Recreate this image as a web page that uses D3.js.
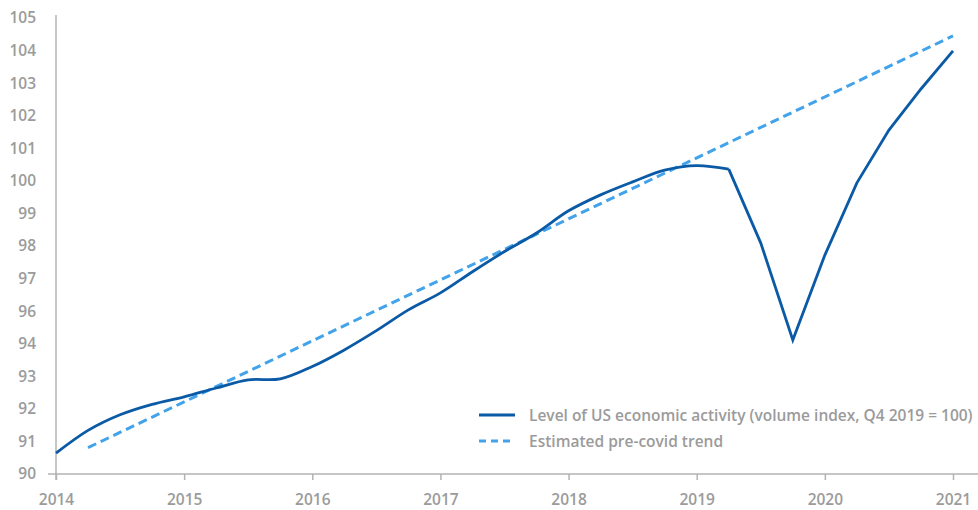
<!DOCTYPE html>
<html>
<head>
<meta charset="utf-8">
<script src="https://cdn.jsdelivr.net/npm/d3@7"></script>
<style>
  html, body { margin: 0; padding: 0; background: #fff; }
  svg { display: block; font-family: "Open Sans", "Noto Sans", sans-serif; }
</style>
</head>
<body>
<svg id="chart" width="978" height="510"></svg>
<script>
// Quarterly time stamps (decimal years) and the activity index
const quarters = [
  2014, 2014.25, 2014.5, 2014.75,
  2015, 2015.25, 2015.5, 2015.75,
  2016, 2016.25, 2016.5, 2016.75,
  2017, 2017.25, 2017.5, 2017.75,
  2018, 2018.25, 2018.5, 2018.75,
  2019, 2019.25, 2019.5, 2019.75,
  2020, 2020.25, 2020.5, 2020.75,
  2021
];
const activity = [
  90.64, 91.34, 91.82, 92.14,
  92.37, 92.64, 92.89, 92.92,
  93.30, 93.81, 94.80, 96.04,
  96.56, 97.21, 97.83, 98.40,
  99.08, 99.57, 99.97, 100.33,
  100.47, 100.36, 98.09, 94.23,
  97.72, 99.94, 101.56, 102.82,
  103.99
];
// Pre-covid trend endpoints
const trendYears = [2014.25, 2021];
const trendValues = [90.81, 104.45];

// Axis labels
const yearTicks = [2014, 2015, 2016, 2017, 2018, 2019, 2020, 2021];
const yTickLabels = [90, 91, 92, 93, 94, 96, 97, 98, 99, 100, 101, 102, 103, 104, 105];

const legendLabels = [
  "Level of US economic activity (volume index, Q4 2019 = 100)",
  "Estimated pre-covid trend"
];

const colors = { activity: "#0b5aa6", trend: "#42a3ea", axis: "#b3b3b3", text: "#9b9b9b" };
const fontSize = 15.5;
const fontWeight = 600;

const svg = d3.select("#chart");
const plotLeft = 56, plotRight = 953, plotTop = 18, plotBottom = 474;

const x = d3.scaleLinear().domain([2014, 2021]).range([plotLeft, plotRight]);

// The labelled scale skips 95, so the vertical scale is piecewise over the label values
const step = (plotBottom - plotTop) / (yTickLabels.length - 1);
const y = d3.scaleLinear()
  .domain(yTickLabels)
  .range(yTickLabels.map((_, i) => plotBottom - i * step));

// Axes
svg.append("line")
  .attr("x1", plotLeft).attr("x2", plotLeft)
  .attr("y1", plotTop - 3).attr("y2", plotBottom + 6)
  .attr("stroke", colors.axis).attr("stroke-width", 1.5);

const xAxis = svg.append("g")
  .attr("transform", `translate(0,${plotBottom})`)
  .call(d3.axisBottom(x).tickValues(yearTicks).tickFormat(d3.format("d")).tickSize(6).tickPadding(14))
  .attr("font-family", null)
  .attr("font-size", null);
xAxis.select(".domain").attr("d", `M48,0H978`);
xAxis.selectAll("line, path").attr("stroke", colors.axis).attr("stroke-width", 1.5);
xAxis.selectAll("text")
  .attr("fill", colors.text)
  .attr("font-size", fontSize)
  .attr("font-weight", fontWeight);

const yAxis = svg.append("g")
  .attr("transform", `translate(${plotLeft},0)`)
  .call(d3.axisLeft(y).tickValues(yTickLabels).tickFormat(d3.format("d")).tickSize(0).tickPadding(20))
  .attr("font-family", null)
  .attr("font-size", null);
yAxis.select(".domain").remove();
yAxis.selectAll("text")
  .attr("fill", colors.text)
  .attr("font-size", fontSize)
  .attr("font-weight", fontWeight);

// Trend line
const trendData = trendYears.map((t, i) => ({ t, v: trendValues[i] }));
svg.append("path")
  .datum(trendData)
  .attr("fill", "none")
  .attr("stroke", colors.trend)
  .attr("stroke-width", 3)
  .attr("stroke-dasharray", "9,5")
  .attr("d", d3.line().x(d => x(d.t)).y(d => y(d.v)));

// Activity line: smooth through the pre-pandemic quarters, straight through the shock
const series = quarters.map((t, i) => ({ t, v: activity[i] }));
const smoothPart = series.filter(d => d.t <= 2019.25);
const shockPart = series.filter(d => d.t >= 2019.25);

svg.append("path")
  .datum(smoothPart)
  .attr("fill", "none")
  .attr("stroke", colors.activity)
  .attr("stroke-width", 2.8)
  .attr("stroke-linejoin", "round")
  .attr("d", d3.line().curve(d3.curveCatmullRom.alpha(0.5)).x(d => x(d.t)).y(d => y(d.v)));

svg.append("path")
  .datum(shockPart)
  .attr("fill", "none")
  .attr("stroke", colors.activity)
  .attr("stroke-width", 2.8)
  .attr("stroke-linejoin", "miter")
  .attr("d", d3.line().x(d => x(d.t)).y(d => y(d.v)));

// Legend
const legend = svg.append("g").attr("transform", "translate(479,415)");
const legendStyles = [
  { stroke: colors.activity, dash: null },
  { stroke: colors.trend, dash: "7,5" }
];
legendLabels.forEach((label, i) => {
  const row = legend.append("g").attr("transform", `translate(0,${i * 26})`);
  row.append("line")
    .attr("x1", 0).attr("x2", 36)
    .attr("stroke", legendStyles[i].stroke)
    .attr("stroke-width", 3)
    .attr("stroke-dasharray", legendStyles[i].dash);
  row.append("text")
    .attr("x", 50).attr("y", 5.5)
    .attr("fill", colors.text)
    .attr("font-size", fontSize)
    .attr("font-weight", fontWeight)
    .text(label);
});
</script>
</body>
</html>
